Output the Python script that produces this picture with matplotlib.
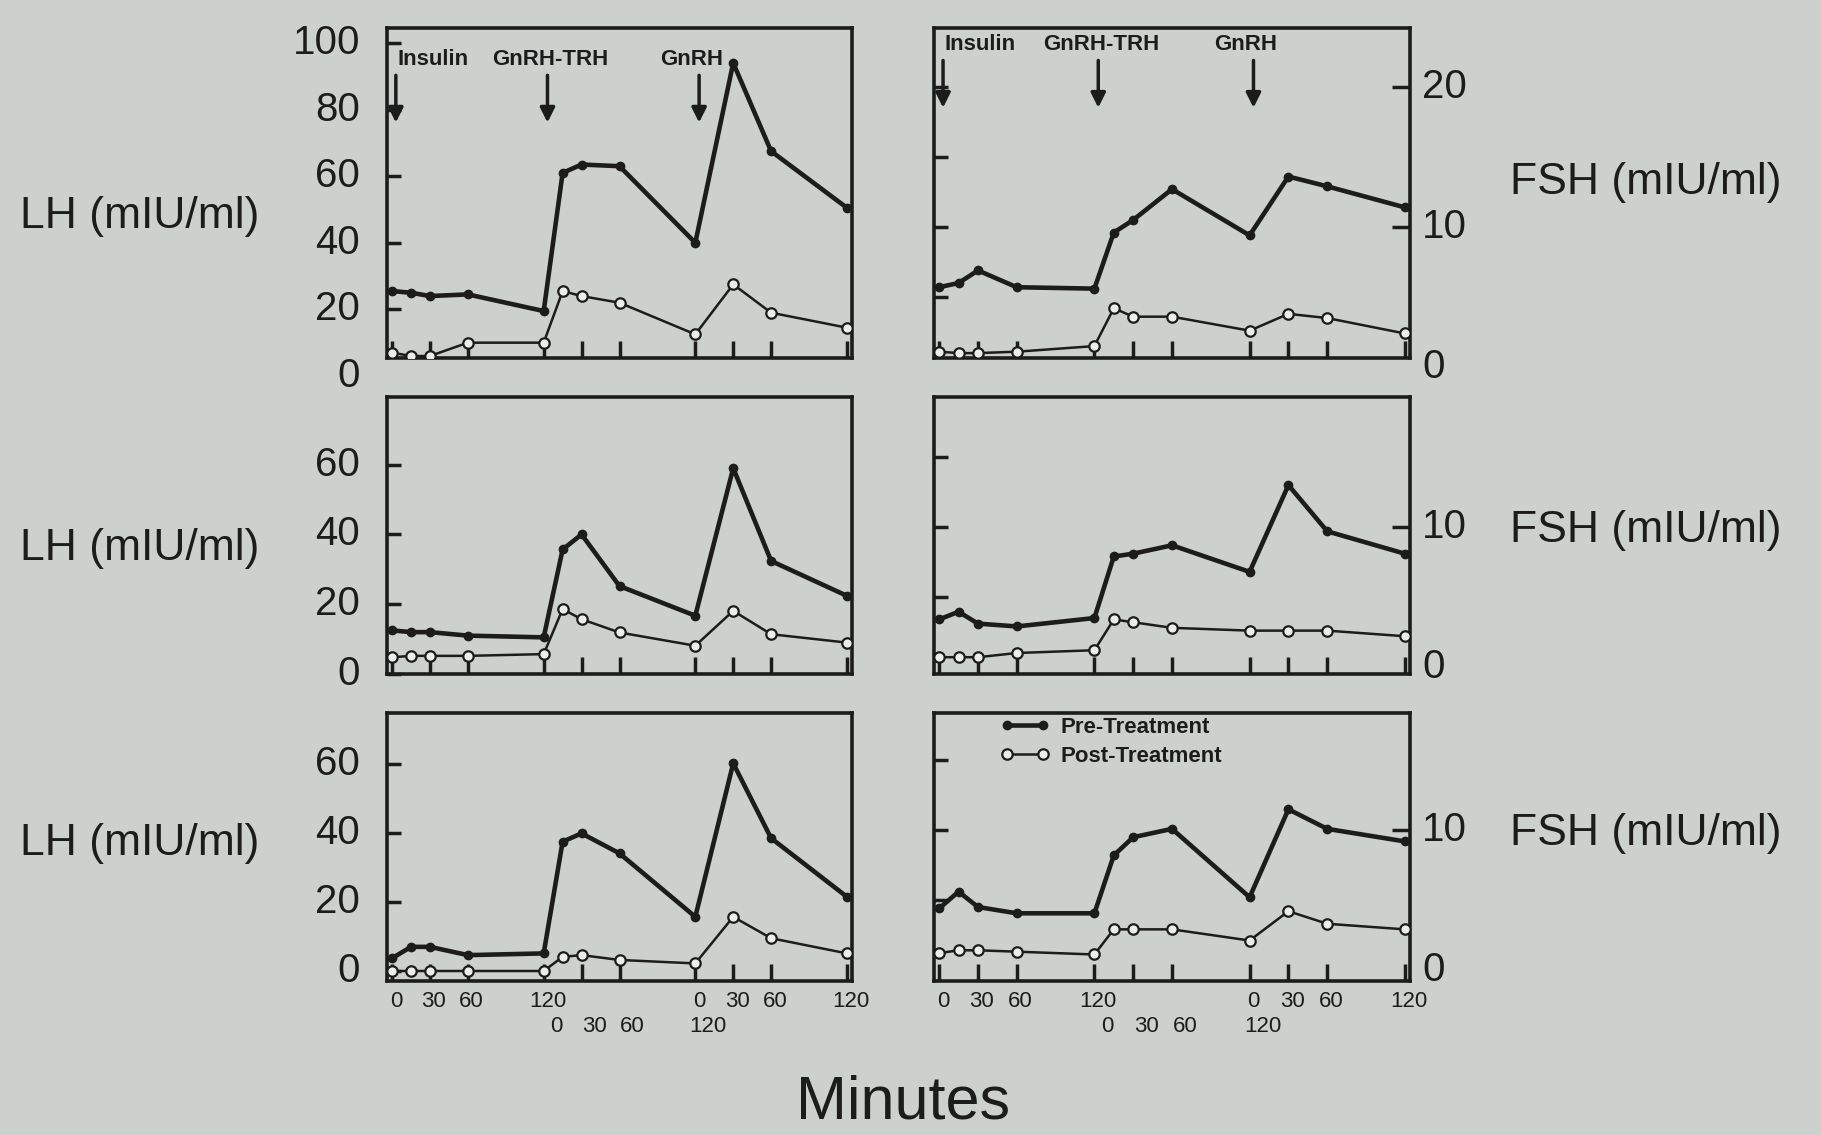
import matplotlib.pyplot as plt
from matplotlib import transforms

# sampling times (minutes) for the three tests, run back to back
insulin_min = [0, 15, 30, 60, 120]
gnrh_trh_min = [15, 30, 60, 120]
gnrh_min = [30, 60, 120]
gnrh_trh_start = 120
gnrh_start = 240
minutes = (insulin_min
           + [gnrh_trh_start + m for m in gnrh_trh_min]
           + [gnrh_start + m for m in gnrh_min])

# LH (mIU/ml), one row per subject
lh_pre_1 = [25.5, 25, 24, 24.5, 19.5, 61, 63.5, 63, 40, 94, 67.5, 50.5]
lh_post_1 = [7, 6, 6, 10, 10, 25.5, 24, 22, 12.5, 27.5, 19, 14.5]
lh_pre_2 = [12.5, 12, 12, 11, 10.5, 35.7, 40, 25.2, 16.7, 59, 32.4, 22.4]
lh_post_2 = [4.8, 5.2, 5.2, 5.2, 5.7, 18.6, 15.7, 11.9, 8.1, 18.1, 11.4, 9]
lh_pre_3 = [3.7, 7, 7, 4.6, 5.1, 37.5, 39.9, 34.1, 15.7, 60.2, 38.5, 21.5]
lh_post_3 = [0, 0, 0, 0, 0, 4.1, 4.6, 3.2, 2.2, 15.7, 9.5, 5.1]

# FSH (mIU/ml)
fsh_pre_1 = [5.7, 6.0, 6.9, 5.7, 5.6, 9.6, 10.5, 12.7, 9.4, 13.6, 12.9, 11.4]
fsh_post_1 = [1.1, 1.0, 1.0, 1.1, 1.5, 4.2, 3.6, 3.6, 2.6, 3.8, 3.5, 2.4]
fsh_pre_2 = [3.4, 3.95, 3.1, 2.9, 3.5, 7.9, 8.1, 8.7, 6.8, 13, 9.7, 8.1]
fsh_post_2 = [0.7, 0.7, 0.7, 1.0, 1.2, 3.4, 3.2, 2.8, 2.6, 2.6, 2.6, 2.2]
fsh_pre_3 = [4.4, 5.6, 4.5, 4.05, 4.05, 8.2, 9.5, 10.1, 5.2, 11.5, 10.1, 9.2]
fsh_post_3 = [1.2, 1.4, 1.4, 1.3, 1.1, 2.9, 2.9, 2.9, 2.1, 4.2, 3.3, 2.9]

lh_ticks = [[0, 20, 40, 60, 80, 100], [0, 20, 40, 60], [0, 20, 40, 60]]
fsh_ticks = [[0, 10, 20], [0, 10], [0, 10]]
fsh_minor = [[5, 10, 15, 20], [5, 10, 15], [5, 10, 15]]

events = ['Insulin', 'GnRH-TRH', 'GnRH']
event_min = [0, gnrh_trh_start, gnrh_start]
phase_labels = ['0', '30', '60', '120']
phase_min = [0, 30, 60, 120]
series_names = ['Pre-Treatment', 'Post-Treatment']

ink = '#1c1c1c'
paper = '#cdd1ce'
font = 'Liberation Sans'
plt.rcParams['font.family'] = [font, 'DejaVu Sans']
plt.rcParams['text.color'] = ink

W, H = 1821, 1135
fig = plt.figure(figsize=(W / 100, H / 100), dpi=100, facecolor=paper)


def px_axes(x0, y0, x1, y1):
    """axes from a pixel box (top-left origin)"""
    return fig.add_axes([x0 / W, 1 - y1 / H, (x1 - x0) / W, (y1 - y0) / H])


rows_px = [(28, 358), (397, 674), (713, 981)]
left_px = (387, 852)
right_px = (934, 1410)

lh_lims = [(5.4, 104.5), (0, 79.4), (-2.9, 74.8)]
fsh_lims = [(0.65, 24.2), (-0.5, 19.3), (-0.8, 18.4)]

lh_data = [(lh_pre_1, lh_post_1), (lh_pre_2, lh_post_2), (lh_pre_3, lh_post_3)]
fsh_data = [(fsh_pre_1, fsh_post_1), (fsh_pre_2, fsh_post_2), (fsh_pre_3, fsh_post_3)]

xticks = sorted(set([s + m for s in event_min for m in phase_min]))


def draw_panel(ax, pre, post, ylim):
    ax.set_facecolor(paper)
    pre_line, = ax.plot(minutes, pre, color=ink, lw=3.3, marker='o', ms=6,
                        mfc=ink, mec=ink, zorder=3)
    post_line, = ax.plot(minutes, post, color=ink, lw=1.8, marker='o', ms=7.5,
                         mfc='#eceeec', mec=ink, mew=1.6, zorder=4)
    ax.set_xlim(-4, 364)
    ax.set_ylim(*ylim)
    ax.set_xticks(xticks)
    ax.tick_params(axis='x', direction='in', length=12, width=2.5, color=ink,
                   labelbottom=False)
    for sp in ax.spines.values():
        sp.set_linewidth(2.6)
        sp.set_color(ink)
    return pre_line, post_line


def tick_text(ax, values, side):
    if side == 'left':
        x, ha = -0.058, 'right'
    else:
        x, ha = 1.025, 'left'
    trans = transforms.blended_transform_factory(ax.transAxes, ax.transData)
    for v in values:
        ax.text(x, v, str(v), transform=trans, ha=ha, va='center',
                fontsize=29, clip_on=False)


def minute_labels(ax):
    trans = transforms.blended_transform_factory(ax.transData, ax.transAxes)
    # first row: insulin and GnRH tests, second row: GnRH-TRH test
    for start in (0, gnrh_start):
        for lab, m in zip(phase_labels, phase_min):
            ax.text(start + m + 3, -0.078, lab, transform=trans, ha='center',
                    va='center', fontsize=16, clip_on=False)
    for lab, m in zip(phase_labels, phase_min):
        ax.text(gnrh_trh_start + m + 10, -0.17, lab, transform=trans,
                ha='center', va='center', fontsize=16, clip_on=False)


def event_arrows(ax, dy):
    trans = transforms.blended_transform_factory(ax.transData, ax.transAxes)
    for i, (name, m) in enumerate(zip(events, event_min)):
        if i == 0:
            ax.text(m + 4, 0.905 + dy, name, transform=trans, ha='left',
                    va='center', fontsize=16, fontweight='bold')
        else:
            ax.text(m + (5 if i == 1 else -3), 0.905 + dy, name, transform=trans,
                    ha='center', va='center', fontsize=16, fontweight='bold')
        ax.annotate('', xy=(m + 3, 0.705 + dy), xycoords=trans,
                    xytext=(m + 3, 0.865 + dy), textcoords=trans,
                    arrowprops=dict(arrowstyle='-|>', lw=2.5, color=ink,
                                    mutation_scale=22))


handles = None
for r, (top, bot) in enumerate(rows_px):
    # LH on the left
    ax = px_axes(left_px[0], top, left_px[1], bot)
    draw_panel(ax, *lh_data[r], lh_lims[r])
    ax.set_yticks([v for v in lh_ticks[r] if lh_lims[r][0] <= v <= lh_lims[r][1]])
    ax.tick_params(axis='y', direction='in', length=10, width=2.5, color=ink,
                   labelleft=False)
    tick_text(ax, lh_ticks[r], 'left')
    if r == 0:
        event_arrows(ax, 0)
    if r == 2:
        minute_labels(ax)

    # FSH on the right
    ax = px_axes(right_px[0], top, right_px[1], bot)
    handles = draw_panel(ax, *fsh_data[r], fsh_lims[r])
    ax.set_yticks(fsh_minor[r])
    ax.tick_params(axis='y', direction='in', length=10, width=2.5, color=ink,
                   labelleft=False)
    tw = ax.twinx()
    tw.set_ylim(*fsh_lims[r])
    tw.set_yticks([v for v in fsh_ticks[r] if v > 0])
    tw.tick_params(axis='y', direction='in', length=13, width=2.5, color=ink,
                   labelright=False)
    tw.set_frame_on(False)
    tick_text(ax, fsh_ticks[r], 'right')
    if r == 0:
        event_arrows(ax, 0.045)
    if r == 2:
        minute_labels(ax)
        ax.legend(handles, series_names, loc='upper left',
                  bbox_to_anchor=(0.14, 0.985), frameon=False, numpoints=2,
                  handlelength=2.2, handletextpad=0.5, labelspacing=0.35,
                  borderaxespad=0, borderpad=0,
                  prop=dict(family=font, size=16, weight='bold'))

# axis titles
for y in (0.809, 0.517, 0.257):
    fig.text(0.011, y, 'LH (mIU/ml)', ha='left', va='center', fontsize=32)
for y in (0.839, 0.533, 0.266):
    fig.text(0.829, y, 'FSH (mIU/ml)', ha='left', va='center', fontsize=32)
fig.text(0.496, 0.028, 'Minutes', ha='center', va='center', fontsize=44)

fig.savefig('out.png', dpi=100, facecolor=paper)
